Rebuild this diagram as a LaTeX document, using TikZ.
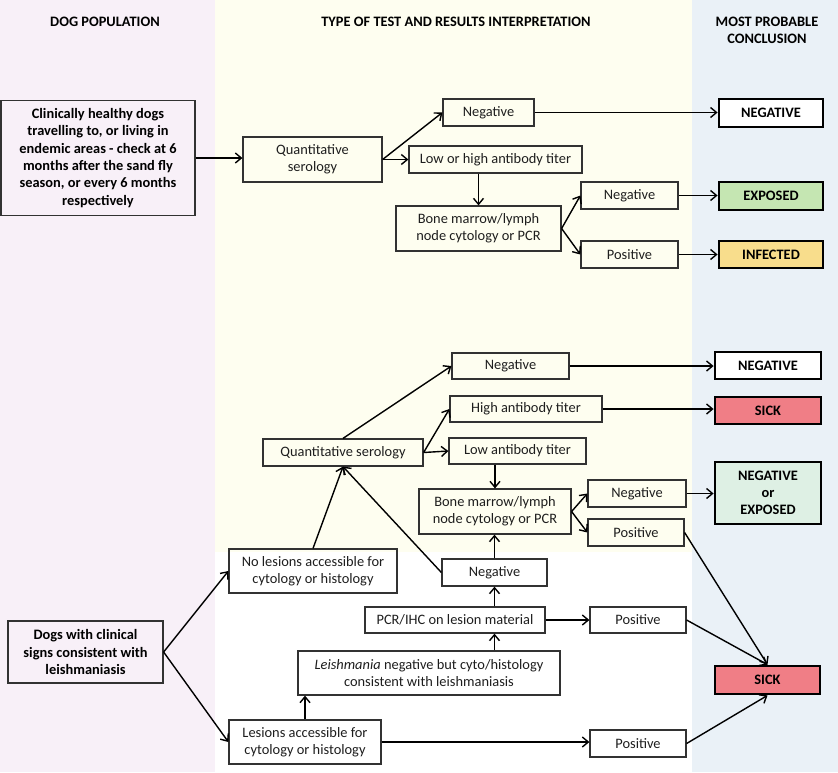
\documentclass[tikz,border=0pt]{standalone}
\usepackage{fontspec}
\setmainfont{Carlito}
\usepackage{tikz}
\usetikzlibrary{arrows.meta,positioning,calc}
\definecolor{popbg}{RGB}{248,240,248}
\definecolor{testbg}{RGB}{254,254,240}
\definecolor{conclbg}{RGB}{234,241,247}
\definecolor{boxgray}{RGB}{50,50,50}
\definecolor{textgray}{RGB}{30,30,30}
\definecolor{exposedgreen}{RGB}{197,230,178}
\definecolor{infectedyellow}{RGB}{248,221,140}
\definecolor{sickred}{RGB}{240,126,134}
\definecolor{negexpmint}{RGB}{222,240,228}

\begin{document}
\begin{tikzpicture}[
    x=1pt, y=-1pt,
    every node/.style={font=\fontsize{14.4}{17.3}\selectfont, text=textgray},
    box/.style={rectangle, draw=boxgray, line width=1.2pt, align=center, inner sep=0pt},
    popbox/.style={box, font=\fontsize{14.4}{17.3}\selectfont\bfseries, text=black},
    concl/.style={rectangle, draw=black, line width=2.8pt, align=center, inner sep=0pt, minimum width=104pt, font=\fontsize{14.4}{17.3}\selectfont\bfseries, text=black},
    head/.style={align=center, font=\fontsize{14.4}{17.3}\selectfont\bfseries, text=black},
    arrow/.style={-{Straight Barb[length=6pt,width=10pt]}, line width=1.4pt, black}
]
\useasboundingbox (0,0) rectangle (838,772);

% Background columns
\fill[popbg] (0,0) rectangle (215,772);
\fill[testbg] (215,0) rectangle (692,552);
\fill[white] (215,552) rectangle (692,772);
\fill[conclbg] (692,0) rectangle (838,772);

% Headers
\node[head] (hpop) at (105,22) {DOG POPULATION};
\node[head] (htest) at (456,22) {TYPE OF TEST AND RESULTS INTERPRETATION};
\node[head] (hconcl) at (767,30) {MOST PROBABLE\\CONCLUSION};

% Healthy dogs
\node[popbox, minimum width=194pt, minimum height=115pt] (healthy) at (98,158) {Clinically healthy dogs\\travelling to, or living in\\endemic areas - check at 6\\months after the sand fly\\season, or every 6 months\\respectively};
\node[box, minimum width=139pt, minimum height=45pt] (qs1) at (312.5,159.5) {Quantitative\\serology};
\node[box, minimum width=91pt, minimum height=27pt] (neg1) at (488.5,112.5) {Negative};
\node[box, minimum width=173pt, minimum height=27pt] (lowhigh) at (495.5,159.5) {Low or high antibody titer};
\node[box, minimum width=165pt, minimum height=45pt] (bm1) at (478.5,228.5) {Bone marrow/lymph\\node cytology or PCR};
\node[box, minimum width=97pt, minimum height=27pt] (neg2) at (629.5,195.5) {Negative};
\node[box, minimum width=97pt, minimum height=27pt] (pos1) at (629.5,254.5) {Positive};
\node[concl, fill=white, minimum height=28pt] (cneg1) at (771,113) {NEGATIVE};
\node[concl, fill=exposedgreen, minimum height=28pt] (cexp) at (771,196) {EXPOSED};
\node[concl, fill=infectedyellow, minimum height=27pt] (cinf) at (771,254.5) {INFECTED};

% Sick dogs
\node[popbox, minimum width=155pt, minimum height=62pt] (dogs) at (85.5,652) {Dogs with clinical\\signs consistent with\\leishmaniasis};
\node[box, minimum width=168pt, minimum height=44pt] (nolesion) at (313,571) {No lesions accessible for\\cytology or histology};
\node[box, minimum width=152pt, minimum height=44pt] (lesion) at (305,742) {Lesions accessible for\\cytology or histology};
\node[box, minimum width=262pt, minimum height=44pt] (leish) at (429,673) {\textit{Leishmania} negative but cyto/histology\\consistent with leishmaniasis};
\node[box, minimum width=180pt, minimum height=26pt] (pcr) at (455,620) {PCR/IHC on lesion material};
\node[box, minimum width=105pt, minimum height=27pt] (neg5) at (494.5,572.5) {Negative};
\node[box, minimum width=96pt, minimum height=26pt] (pos3) at (638,620) {Positive};
\node[box, minimum width=96pt, minimum height=27pt] (pos4) at (638,743.5) {Positive};
\node[box, minimum width=160pt, minimum height=27pt] (qs2) at (343,452.5) {Quantitative serology};
\node[box, minimum width=117pt, minimum height=26pt] (neg3) at (510.5,366) {Negative};
\node[box, minimum width=152pt, minimum height=26pt] (high) at (526,409) {High antibody titer};
\node[box, minimum width=137pt, minimum height=26pt] (low) at (517.5,451) {Low antibody titer};
\node[box, minimum width=152pt, minimum height=45pt] (bm2) at (495,511.5) {Bone marrow/lymph\\node cytology or PCR};
\node[box, minimum width=98pt, minimum height=27pt] (neg4) at (637,493.5) {Negative};
\node[box, minimum width=96pt, minimum height=27pt] (pos2) at (636,532.5) {Positive};
\node[concl, fill=white, minimum width=106pt, minimum height=27pt] (cneg2) at (768,365.5) {NEGATIVE};
\node[concl, fill=sickred, minimum width=106pt, minimum height=27pt] (csick1) at (768,410.5) {SICK};
\node[concl, fill=negexpmint, minimum width=106pt, minimum height=62pt] (cnegexp) at (768,493) {NEGATIVE\\or\\EXPOSED};
\node[concl, fill=sickred, minimum width=105pt, minimum height=28pt] (csick2) at (767.5,680) {SICK};

% Arrows (healthy dogs)
\draw[arrow] (healthy.east) -- (healthy.east -| qs1.west);
\draw[arrow] (qs1.east) -- (neg1.west);
\draw[arrow] (qs1.east) -- (lowhigh.west);
\draw[arrow] (bm1.north |- lowhigh.south) -- (bm1.north);
\draw[arrow] (bm1.east) -- (neg2.west);
\draw[arrow] (bm1.east) -- (pos1.west);
\draw[arrow] (neg1.east) -- (neg1.east -| cneg1.west);
\draw[arrow] (neg2.east) -- (neg2.east -| cexp.west);
\draw[arrow] (pos1.east) -- (pos1.east -| cinf.west);

% Arrows (sick dogs)
\draw[arrow] (dogs.east) -- (nolesion.west);
\draw[arrow] (dogs.east) -- (lesion.west);
\draw[arrow] (nolesion.north) -- (qs2.south);
\draw[arrow] (neg5.west) -- (qs2.south);
\draw[arrow] (qs2.north) -- (neg3.west);
\draw[arrow] (qs2.east) -- (high.west);
\draw[arrow] (qs2.east) -- (low.west);
\draw[arrow] (bm2.north |- low.south) -- (bm2.north);
\draw[arrow] (bm2.east) -- (neg4.west);
\draw[arrow] (bm2.east) -- (pos2.west);
\draw[arrow] (neg3.east) -- (neg3.east -| cneg2.west);
\draw[arrow] (high.east) -- (high.east -| csick1.west);
\draw[arrow] (neg4.east) -- (neg4.east -| cnegexp.west);
\draw[arrow] (neg5.north) -- (neg5.north |- bm2.south);
\draw[arrow] (neg5.south |- pcr.north) -- (neg5.south);
\draw[arrow] (neg5.south |- leish.north) -- (neg5.south |- pcr.south);
\draw[arrow] (lesion.north) -- (lesion.north |- leish.south);
\draw[arrow] (lesion.east) -- (lesion.east -| pos4.west);
\draw[arrow] (pcr.east) -- (pcr.east -| pos3.west);
\draw[arrow] (pos2.east) -- (csick2.north);
\draw[arrow] (pos3.east) -- (csick2.north);
\draw[arrow] (pos4.east) -- (csick2.south);

\end{tikzpicture}
\end{document}
